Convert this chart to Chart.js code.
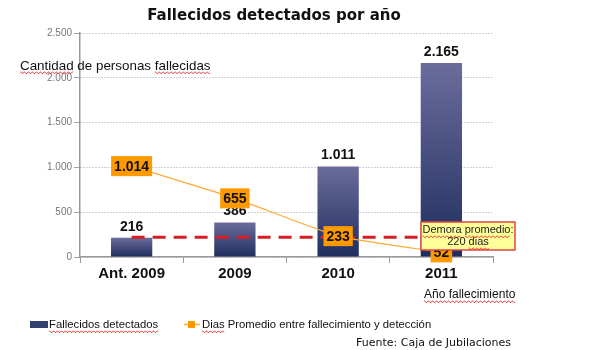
<!DOCTYPE html>
<html>
<head>
<meta charset="utf-8">
<script src="https://cdn.jsdelivr.net/npm/chart.js@4"></script>
<style>
  html, body { margin: 0; padding: 0; background: #fff; }
  #wrap { width: 613px; height: 350px; position: relative; }
</style>
</head>
<body>
<div id="wrap"><canvas id="mainChart" width="613" height="350"></canvas></div>
<script>
// data
var categories = ['Ant. 2009', '2009', '2010', '2011'];
var fallecidos = [216, 386, 1011, 2165];
var diasPromedio = [1014, 655, 233, 52];
var demoraPromedio = [220, 220, 220, 220];
var yTicks = [0, 500, 1000, 1500, 2000, 2500];

var FONT = '"Liberation Sans", Arial, sans-serif';

// 1.234 style numbers
function fmt(v) {
    return String(v).replace(/\B(?=(\d{3})+(?!\d))/g, '.');
}

// red spell-check squiggle under a piece of text
function squiggle(ctx, x, y, w) {
    ctx.save();
    ctx.strokeStyle = '#e03030';
    ctx.lineWidth = 0.8;
    ctx.beginPath();
    for (var i = 0; i <= w; i += 1) {
        var yy = y + ((i % 4) < 2 ? 0 : 1.5);
        if (i === 0) ctx.moveTo(x + i, yy); else ctx.lineTo(x + i, yy);
    }
    ctx.stroke();
    ctx.restore();
}

// write text (left aligned) and squiggle the listed words
function textWithMarks(ctx, txt, x, y, marked) {
    ctx.fillText(txt, x, y);
    marked.forEach(function (word) {
        var idx = txt.indexOf(word);
        if (idx < 0) return;
        var x0 = x + ctx.measureText(txt.slice(0, idx)).width;
        squiggle(ctx, x0, y + 6, ctx.measureText(word).width);
    });
}

// labels, titles, annotation box, legend
var decorations = {
    id: 'decorations',
    afterDatasetsDraw: function (chart) {
        var ctx = chart.ctx;
        ctx.save();

        // value over each bar
        var barMeta = chart.getDatasetMeta(0);
        ctx.fillStyle = '#111';
        ctx.font = 'bold 14px ' + FONT;
        ctx.textAlign = 'center';
        ctx.textBaseline = 'middle';
        barMeta.data.forEach(function (bar, i) {
            ctx.fillText(fmt(fallecidos[i]), bar.x, bar.y - 11);
        });

        // orange boxes on the line
        var lineMeta = chart.getDatasetMeta(1);
        lineMeta.data.forEach(function (pt, i) {
            var txt = fmt(diasPromedio[i]);
            ctx.font = 'bold 14px ' + FONT;
            var w = ctx.measureText(txt).width + 6;
            ctx.fillStyle = '#ff9900';
            ctx.fillRect(pt.x - w / 2, pt.y - 10, w, 20);
            ctx.fillStyle = '#111';
            ctx.fillText(txt, pt.x, pt.y + 1);
        });

        // Demora promedio box
        var bx = 421, by = 222, bw = 94, bh = 28;
        ctx.fillStyle = '#ffff99';
        ctx.fillRect(bx, by, bw, bh);
        ctx.strokeStyle = '#e0454a';
        ctx.lineWidth = 1.5;
        ctx.strokeRect(bx, by, bw, bh);
        ctx.fillStyle = '#222';
        ctx.font = '11px ' + FONT;
        ctx.textAlign = 'left';
        var t1 = 'Demora promedio:';
        var w1 = ctx.measureText(t1).width;
        textWithMarks(ctx, t1, bx + (bw - w1) / 2, by + 8, ['Demora', 'promedio']);
        var t2 = '220 dias';
        var w2 = ctx.measureText(t2).width;
        textWithMarks(ctx, t2, bx + (bw - w2) / 2, by + 20, ['dias']);

        // titles
        ctx.textAlign = 'center';
        ctx.fillStyle = '#111';
        ctx.font = 'bold 15px "DejaVu Sans", Verdana, sans-serif';
        ctx.fillText('Fallecidos detectados por año', 274, 16);

        ctx.textAlign = 'left';
        ctx.font = '13.4px ' + FONT;
        textWithMarks(ctx, 'Cantidad de personas fallecidas', 20, 66, ['Cantidad', 'fallecidas']);
        ctx.font = '12px ' + FONT;
        textWithMarks(ctx, 'Año fallecimiento', 424, 295, ['Año fallecimiento']);

        // legend
        ctx.fillStyle = '#33406e';
        ctx.fillRect(30, 321, 18, 7);
        ctx.fillStyle = '#111';
        ctx.font = '11.3px ' + FONT;
        textWithMarks(ctx, 'Fallecidos detectados', 49, 325, ['Fallecidos detectados']);
        ctx.strokeStyle = '#ffaa33';
        ctx.lineWidth = 1.5;
        ctx.beginPath();
        ctx.moveTo(184, 324.5);
        ctx.lineTo(200, 324.5);
        ctx.stroke();
        ctx.fillStyle = '#ff9900';
        ctx.fillRect(188, 321, 7, 7);
        ctx.fillStyle = '#111';
        textWithMarks(ctx, 'Dias Promedio entre fallecimiento y detección', 202, 325, ['Dias']);

        ctx.font = '11px "DejaVu Sans", Verdana, sans-serif';
        ctx.fillText('Fuente: Caja de Jubilaciones', 356, 343);
        ctx.restore();
    }
};

// each bar goes from a lighter top to a dark base
function barGradient(context) {
    var chart = context.chart;
    var area = chart.chartArea;
    var y = chart.scales.y;
    if (!area || !y) return '#3a4576';
    var top = y.getPixelForValue(fallecidos[context.dataIndex]);
    var g = chart.ctx.createLinearGradient(0, top, 0, area.bottom);
    g.addColorStop(0, '#6b6c9c');
    g.addColorStop(1, '#1f2e5e');
    return g;
}

var ctx = document.getElementById('mainChart').getContext('2d');
var chart = new Chart(ctx, {
    type: 'bar',
    data: {
        labels: categories,
        datasets: [{
            type: 'bar',
            label: 'Fallecidos detectados',
            data: fallecidos,
            backgroundColor: barGradient,
            borderWidth: 0,
            barPercentage: 0.4,
            categoryPercentage: 1,
            order: 3
        }, {
            type: 'line',
            label: 'Dias Promedio entre fallecimiento y detección',
            data: diasPromedio,
            borderColor: '#ffaa33',
            borderWidth: 1.2,
            backgroundColor: '#ff9900',
            pointStyle: 'rect',
            pointRadius: 4,
            tension: 0.15,
            order: 1
        }, {
            type: 'line',
            label: 'Demora promedio',
            data: demoraPromedio,
            borderColor: '#d81e24',
            borderWidth: 3,
            borderDash: [13, 8],
            pointRadius: 0,
            order: 2
        }]
    },
    options: {
        responsive: false,
        animation: false,
        layout: { padding: { top: 33, right: 120, bottom: 0, left: 0 } },
        plugins: {
            legend: { display: false },
            tooltip: { enabled: false }
        },
        scales: {
            x: {
                afterFit: function (s) { s.height = 93; },
                grid: { offset: true, drawOnChartArea: false, tickLength: 6, color: '#999' },
                border: { color: '#999', width: 1.5 },
                ticks: {
                    color: '#111',
                    padding: 2,
                    font: { family: FONT, size: 15, weight: 'bold' }
                }
            },
            y: {
                min: 0,
                max: 2500,
                afterFit: function (s) { s.width = 80; },
                afterBuildTicks: function (s) {
                    s.ticks = yTicks.map(function (v) { return { value: v }; });
                },
                grid: { color: '#9ea3bd', tickLength: 6 },
                border: { color: '#999', width: 1.5, dash: [1, 2] },
                ticks: {
                    color: '#777',
                    padding: 2,
                    font: { family: FONT, size: 10 },
                    callback: function (v) { return fmt(v); }
                }
            }
        }
    },
    plugins: [decorations]
});
</script>
</body>
</html>
